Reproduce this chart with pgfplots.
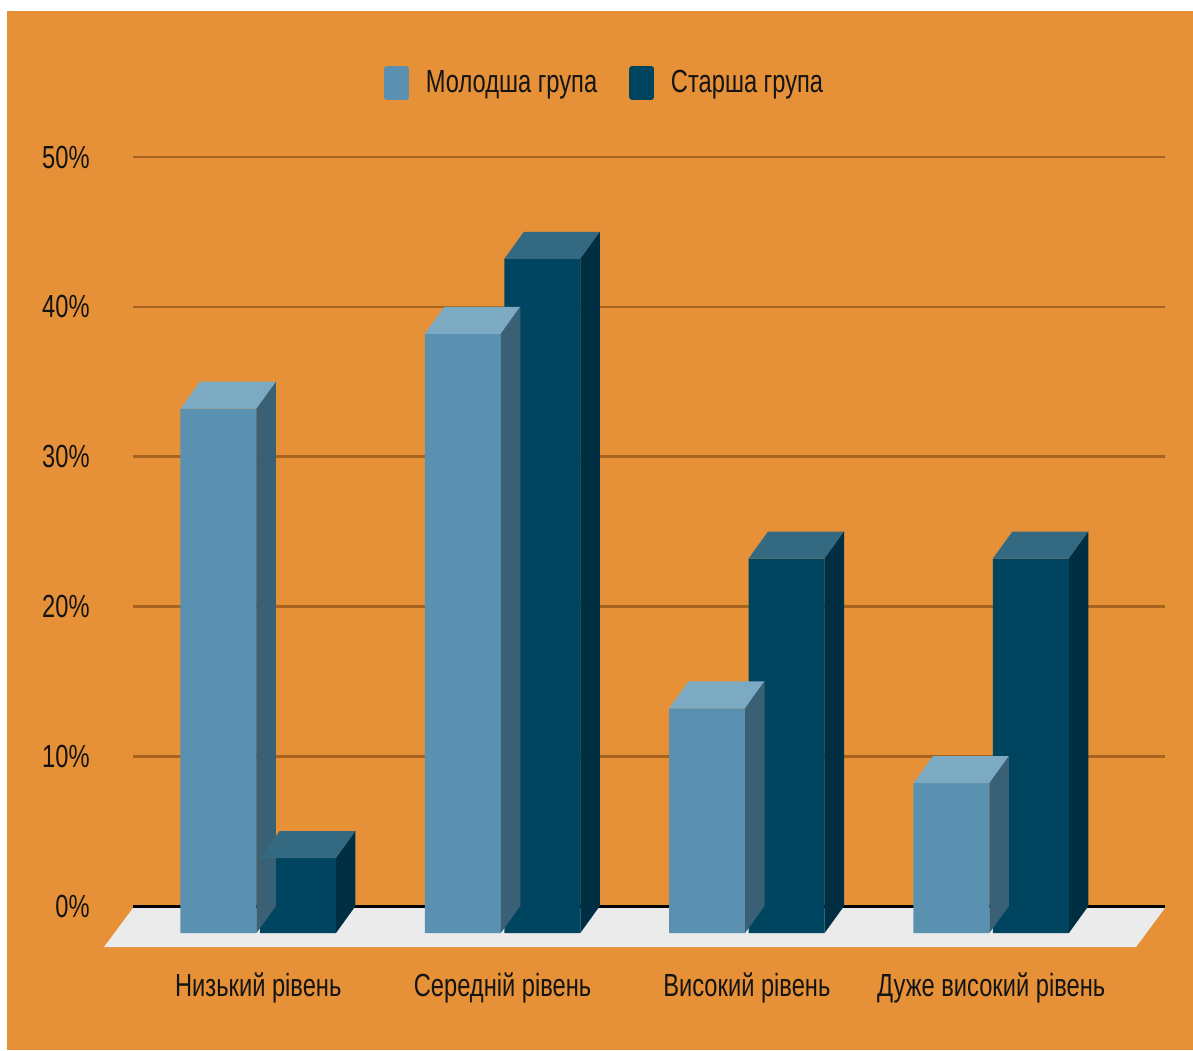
\documentclass[border=0pt]{standalone}
\usepackage{fontspec}
\setmainfont{Liberation Sans}[FakeStretch=0.74]
\usepackage{pgfplots}
\usepackage{pgfplotstable}
\pgfplotsset{compat=1.18}

\definecolor{bgorange}{HTML}{E69138}
\definecolor{gridc}{HTML}{A8641F}
\definecolor{floorc}{HTML}{EBEBEB}
\definecolor{molFront}{HTML}{5A91B0}
\definecolor{molTop}{HTML}{7BAAC2}
\definecolor{molSide}{HTML}{3A6076}
\definecolor{oldFront}{HTML}{004560}
\definecolor{oldTop}{HTML}{336A81}
\definecolor{oldSide}{HTML}{002F43}
\definecolor{txt}{HTML}{141414}

\pgfplotstableread{
x v
0 35
1 40
2 15
3 10
}\younger
\pgfplotstableread{
x v
0 5
1 45
2 25
3 25
}\older

% top and side faces of a 3D bar, drawn at the data point (back top centre of the group)
\pgfdeclareplotmark{barA}{%
  \pgfsetfillcolor{molTop}%
  \pgfpathmoveto{\pgfpoint{-38.875pt}{0pt}}%
  \pgfpathlineto{\pgfpoint{-0.875pt}{0pt}}%
  \pgfpathlineto{\pgfpoint{-10.625pt}{-13.5pt}}%
  \pgfpathlineto{\pgfpoint{-48.625pt}{-13.5pt}}%
  \pgfpathclose\pgfusepath{fill}%
  \pgfsetfillcolor{molSide}%
  \pgfpathmoveto{\pgfpoint{-0.875pt}{0pt}}%
  \pgfpathlineto{\pgfpoint{-0.875pt}{-\val*7.49pt}}%
  \pgfpathlineto{\pgfpoint{-10.625pt}{-\val*7.49pt-13.5pt}}%
  \pgfpathlineto{\pgfpoint{-10.625pt}{-13.5pt}}%
  \pgfpathclose\pgfusepath{fill}%
}
\pgfdeclareplotmark{barB}{%
  \pgfsetfillcolor{oldTop}%
  \pgfpathmoveto{\pgfpoint{0.875pt}{0pt}}%
  \pgfpathlineto{\pgfpoint{38.875pt}{0pt}}%
  \pgfpathlineto{\pgfpoint{29.125pt}{-13.5pt}}%
  \pgfpathlineto{\pgfpoint{-8.875pt}{-13.5pt}}%
  \pgfpathclose\pgfusepath{fill}%
  \pgfsetfillcolor{oldSide}%
  \pgfpathmoveto{\pgfpoint{38.875pt}{0pt}}%
  \pgfpathlineto{\pgfpoint{38.875pt}{-\val*7.49pt}}%
  \pgfpathlineto{\pgfpoint{29.125pt}{-\val*7.49pt-13.5pt}}%
  \pgfpathlineto{\pgfpoint{29.125pt}{-13.5pt}}%
  \pgfpathclose\pgfusepath{fill}%
}

\begin{document}
\begin{tikzpicture}
% background
\fill[white] (-66.5pt,-72pt) rectangle (530pt,453pt);
\fill[bgorange] (-63pt,-72pt) rectangle (530pt,447.5pt);
% floor
\fill[floorc] (0pt,-1pt) -- (516pt,-1pt) -- (501.5pt,-20.5pt) -- (-14.5pt,-20.5pt) -- cycle;
\begin{axis}[
  at={(0,0)}, anchor=south west,
  x=122.15pt, y=7.49pt,
  xmin=-0.5925, xmax=3.632,
  ymin=0, ymax=50,
  clip=false,
  axis line style={draw=none},
  major tick length=0pt,
  tick style={draw=none},
  ymajorgrids,
  grid style={line width=1.3pt, color=gridc},
  ytick={0,10,20,30,40,50},
  yticklabels={0\%,10\%,20\%,30\%,40\%,50\%},
  xtick={0,1,2,3},
  xticklabels={Низький рівень,Середній рівень,Високий рівень,Дуже високий рівень},
  every tick label/.append style={font=\fontsize{16pt}{19pt}\selectfont, text=txt},
  yticklabel style={anchor=east, inner sep=0pt, xshift=-21.5pt},
  xticklabel style={anchor=north, inner sep=0pt, yshift=-33pt, xshift=-9.75pt},
  legend columns=2,
  legend style={
    at={(0.456,1.0988)}, anchor=center,
    draw=none, fill=none,
    font=\fontsize{16pt}{19pt}\selectfont,
    text=txt,
    nodes={inner sep=0pt},
    /tikz/every odd column/.append style={column sep=8.5pt},
    /tikz/every even column/.append style={column sep=16pt},
  },
]
\addlegendimage{legend image code/.code={\fill[molFront,rounded corners=1.2pt] (0pt,-8.25pt) rectangle (12pt,8.25pt);}}
\addlegendentry{Молодша група}
\addlegendimage{legend image code/.code={\fill[oldFront,rounded corners=1.2pt] (0pt,-8.25pt) rectangle (12pt,8.25pt);}}
\addlegendentry{Старша група}

% zero line
\addplot[forget plot, black, line width=1.5pt] coordinates {(-0.5925,0) (3.632,0)};

% younger group
\addplot[forget plot, only marks, mark=barA,
  visualization depends on={y \as \val}] table[x=x, y=v] {\younger};
\addplot[forget plot, ybar, bar width=38pt, bar shift=-19.875pt, fill=molFront, draw=none,
  xshift=-9.75pt, yshift=-13.5pt] table[x=x, y=v] {\younger};

% older group
\addplot[forget plot, only marks, mark=barB,
  visualization depends on={y \as \val}] table[x=x, y=v] {\older};
\addplot[forget plot, ybar, bar width=38pt, bar shift=19.875pt, fill=oldFront, draw=none,
  xshift=-9.75pt, yshift=-13.5pt] table[x=x, y=v] {\older};
\end{axis}
\end{tikzpicture}
\end{document}
